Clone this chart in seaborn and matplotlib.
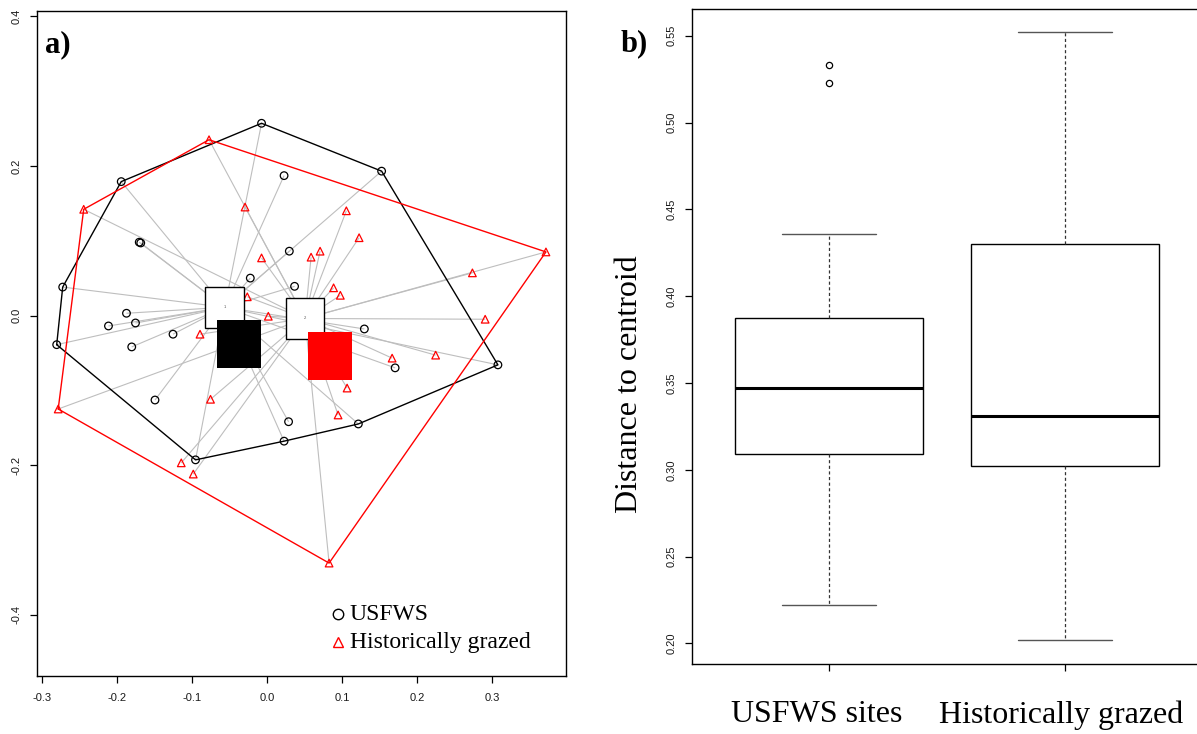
import numpy as np
import pandas as pd
import matplotlib
matplotlib.use("Agg")
import matplotlib.pyplot as plt
from matplotlib.patches import Rectangle
from matplotlib.collections import LineCollection
import seaborn as sns

# ---- PCoA site scores (axis 1, axis 2) ----
usfws_x = [-0.007, 0.153, 0.308, 0.122, 0.023, -0.095, -0.280, -0.272, -0.194,
           0.023, -0.170, -0.168, 0.030, -0.022, 0.037, -0.187, -0.211, -0.175,
           -0.125, -0.180, -0.149, 0.130, 0.171, 0.029]
usfws_y = [0.257, 0.193, -0.066, -0.145, -0.168, -0.193, -0.039, 0.038, 0.179,
           0.187, 0.098, 0.097, 0.086, 0.050, 0.039, 0.003, -0.014, -0.010,
           -0.025, -0.042, -0.113, -0.018, -0.070, -0.142]
grazed_x = [-0.077, 0.372, 0.083, -0.278, -0.244, -0.029, -0.007, -0.026, 0.002,
            -0.089, -0.075, -0.114, -0.098, 0.106, 0.123, 0.059, 0.071, 0.089,
            0.098, 0.274, 0.291, 0.167, 0.225, 0.107, 0.095]
grazed_y = [0.235, 0.085, -0.331, -0.125, 0.142, 0.145, 0.077, 0.025, -0.001,
            -0.025, -0.112, -0.197, -0.212, 0.140, 0.104, 0.078, 0.086, 0.037,
            0.027, 0.057, -0.005, -0.057, -0.053, -0.097, -0.133]

# group centroids (labelled boxes) and group means (filled squares)
centroid_x = [-0.056, 0.051]
centroid_y = [0.011, -0.004]
mean_x = [-0.037, 0.084]
mean_y = [-0.038, -0.054]

group_names = ["USFWS", "Historically grazed"]
group_colors = ["black", "red"]
group_markers = ["o", "^"]

# ---- distances to group centroid ----
usfws_dist = [0.222, 0.251, 0.268, 0.284, 0.297, 0.306, 0.310, 0.318, 0.326,
              0.333, 0.339, 0.345, 0.349, 0.356, 0.364, 0.371, 0.379, 0.386,
              0.392, 0.401, 0.417, 0.436, 0.523, 0.533]
grazed_dist = [0.202, 0.236, 0.255, 0.271, 0.284, 0.295, 0.302, 0.308, 0.314,
               0.319, 0.323, 0.327, 0.331, 0.344, 0.358, 0.376, 0.394, 0.413,
               0.430, 0.447, 0.466, 0.488, 0.507, 0.529, 0.552]
box_labels = ["USFWS sites", "Historically grazed"]

# ---- style ----
sns.set_style("ticks")
plt.rcParams["font.family"] = ["Liberation Sans", "DejaVu Sans"]
plt.rcParams["axes.unicode_minus"] = False
plt.rcParams["text.color"] = "black"
plt.rcParams["axes.labelcolor"] = "black"
SERIF = ["Liberation Serif", "DejaVu Serif"]

fig = plt.figure(figsize=(11.97, 7.34), dpi=100)
ax1 = fig.add_axes([0.0305, 0.0790, 0.4424, 0.9060])
ax2 = fig.add_axes([0.5784, 0.0950, 0.4257, 0.8928])

# ---- panel a: ordination with dispersion ----
sites = pd.DataFrame({
    "x": usfws_x + grazed_x,
    "y": usfws_y + grazed_y,
    "group": [group_names[0]] * len(usfws_x) + [group_names[1]] * len(grazed_x),
})


def convex_hull(px, py):
    pts = sorted(set(zip(px, py)))

    def cross(o, a, b):
        return (a[0] - o[0]) * (b[1] - o[1]) - (a[1] - o[1]) * (b[0] - o[0])

    lower, upper = [], []
    for p in pts:
        while len(lower) >= 2 and cross(lower[-2], lower[-1], p) <= 0:
            lower.pop()
        lower.append(p)
    for p in reversed(pts):
        while len(upper) >= 2 and cross(upper[-2], upper[-1], p) <= 0:
            upper.pop()
        upper.append(p)
    hull = lower[:-1] + upper[:-1]
    hull.append(hull[0])
    return np.array(hull)


# spokes from every site to its group centroid
segs = []
for gi, name in enumerate(group_names):
    sub = sites[sites["group"] == name]
    for xv, yv in zip(sub["x"], sub["y"]):
        segs.append([(xv, yv), (centroid_x[gi], centroid_y[gi])])
ax1.add_collection(LineCollection(segs, colors="#BEBEBE", linewidths=0.8, zorder=1))

# convex hulls
for gi, name in enumerate(group_names):
    sub = sites[sites["group"] == name]
    h = convex_hull(list(sub["x"]), list(sub["y"]))
    ax1.plot(h[:, 0], h[:, 1], color=group_colors[gi], lw=1.0, zorder=2)

sns.scatterplot(data=sites, x="x", y="y", hue="group", style="group",
                palette=dict(zip(group_names, group_colors)),
                markers=dict(zip(group_names, group_markers)),
                s=30, legend=False, ax=ax1, zorder=3)
coll = ax1.collections[-1]
fcs = coll.get_facecolors()
coll.set_edgecolors(fcs)
coll.set_facecolors("none")
coll.set_linewidths(0.9)

# centroid label boxes
bw, bh = 0.0515, 0.0548
for gi in range(2):
    ax1.add_patch(Rectangle((centroid_x[gi] - bw / 2, centroid_y[gi] - bh / 2), bw, bh,
                            fc="white", ec="black", lw=1.0, zorder=4))
    ax1.text(centroid_x[gi], centroid_y[gi], str(gi + 1), fontsize=3,
             color="#555555", ha="center", va="center", zorder=4)

# group means
sw, sh = 0.0586, 0.065
for gi in range(2):
    ax1.add_patch(Rectangle((mean_x[gi] - sw / 2, mean_y[gi] - sh / 2), sw, sh,
                            fc=group_colors[gi], ec="none", zorder=5))

ax1.set_xlim(-0.3069, 0.3988)
ax1.set_ylim(-0.4820, 0.4071)
ax1.set_xticks([-0.3, -0.2, -0.1, 0.0, 0.1, 0.2, 0.3])
ax1.set_xticklabels(["-0.3", "-0.2", "-0.1", "0.0", "0.1", "0.2", "0.3"])
ax1.set_yticks([-0.4, -0.2, 0.0, 0.2, 0.4])
ax1.set_yticklabels(["-0.4", "-0.2", "0.0", "0.2", "0.4"])
ax1.set_xlabel("")
ax1.set_ylabel("")

# legend
leg_x = 0.5694
for gi, yy in enumerate([0.0932, 0.0511]):
    ax1.plot([leg_x], [yy], marker=group_markers[gi], ms=7.5, mfc="none",
             mec=group_colors[gi], mew=1.0, transform=ax1.transAxes,
             clip_on=False, zorder=6)
    ax1.text(leg_x + 0.022, yy, group_names[gi], transform=ax1.transAxes,
             family=SERIF, fontsize=17, color="black", ha="left", va="center",
             zorder=6)

ax1.text(0.016, 0.938, "a)", transform=ax1.transAxes, family=SERIF,
         fontsize=22, fontweight="bold", color="black", ha="left", va="baseline")

# ---- panel b: distance to centroid ----
dist = pd.DataFrame({
    "group": [box_labels[0]] * len(usfws_dist) + [box_labels[1]] * len(grazed_dist),
    "distance": usfws_dist + grazed_dist,
})
sns.boxplot(data=dist, x="group", y="distance", order=box_labels, ax=ax2,
            color="white", linecolor="black", linewidth=1.0, width=0.8, whis=1.5,
            medianprops={"linewidth": 2.2, "color": "black"},
            whiskerprops={"linestyle": (0, (2.5, 2.0)), "color": "#333333", "linewidth": 0.9},
            capprops={"color": "#555555", "linewidth": 1.0},
            flierprops={"marker": "o", "markerfacecolor": "none",
                        "markeredgecolor": "black", "markersize": 4.5,
                        "markeredgewidth": 0.9})
ax2.set_xlim(-0.579, 1.58)
ax2.set_ylim(0.188, 0.5654)
ax2.set_yticks([0.20, 0.25, 0.30, 0.35, 0.40, 0.45, 0.50, 0.55])
ax2.set_yticklabels(["0.20", "0.25", "0.30", "0.35", "0.40", "0.45", "0.50", "0.55"])
ax2.set_xticks([0, 1])
ax2.set_xticklabels(["", ""])
ax2.set_xlabel("")
ax2.set_ylabel("")

for ax in (ax1, ax2):
    for sp in ax.spines.values():
        sp.set_visible(True)
        sp.set_color("black")
        sp.set_linewidth(1.0)
    ax.tick_params(axis="both", length=5, width=0.9, color="black",
                   labelsize=8, labelcolor="#1a1a1a")
    ax.tick_params(axis="x", pad=7)
    ax.tick_params(axis="y", pad=6)
    for lab in ax.get_yticklabels():
        lab.set_rotation(90)
        lab.set_va("center")

fig.text(0.5263, 0.4768, "Distance to centroid", family=SERIF, fontsize=23,
         color="black", rotation=90, ha="center", va="center")
fig.text(816.7 / 1197, 0.0259, box_labels[0], family=SERIF, fontsize=23,
         color="black", ha="center", va="center")
fig.text(1060.8 / 1197, 0.0259, box_labels[1], family=SERIF, fontsize=23,
         color="black", ha="center", va="center")
fig.text(621 / 1197, (734 - 51) / 734, "b)", family=SERIF, fontsize=22,
         fontweight="bold", color="black", ha="left", va="baseline")

fig.savefig("out.png", dpi=100, facecolor="white")
